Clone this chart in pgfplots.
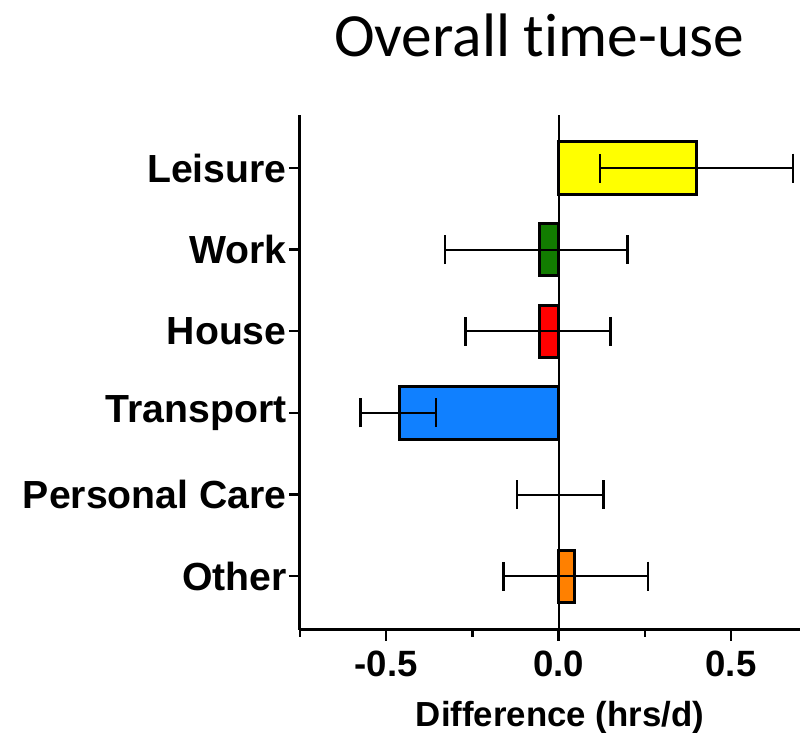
\documentclass[border=0pt]{standalone}
\usepackage{pgfplots}
\pgfplotsset{compat=1.18}
\usepackage{fontspec}
\setmainfont{Liberation Sans}
\newfontfamily\calibri[Ligatures={NoCommon,NoDiscretionary,NoContextual}]{Carlito}
\definecolor{cyel}{HTML}{FFFF00}
\definecolor{cgrn}{HTML}{127C00}
\definecolor{cred}{HTML}{FF0000}
\definecolor{cblu}{HTML}{1080FF}
\definecolor{corg}{HTML}{FF8000}
\pgfplotsset{
  barline/.style={line width=1.5pt, draw=black},
  myerr/.style={error bars/.cd, x dir=both, x explicit,
  error bar style={line width=1pt, black},
  error mark options={rotate=90, mark size=7.25pt, line width=1.2pt, black}}}
\begin{document}
\begin{tikzpicture}[x=0.5pt,y=0.5pt]
\begin{axis}[name=ax, at={(0,0)}, anchor=south west,
  scale only axis, width=250pt, height=257.5pt,
  xmin=-0.75, xmax=0.70, ymin=-0.66, ymax=5.65,
  axis lines*=left,
  axis line style={line width=1.5pt},
  xtick={-0.5,0,0.5}, xticklabels={-0.5,0.0,0.5},
  minor xtick={-0.75,-0.25,0.25},
  ytick={0,1,2,3,4,5},
  yticklabels={Other,Personal Care,Transport,House,Work,Leisure},
  tick align=outside,
  major tick length=5.5pt, minor tick length=3.5pt,
  every tick/.style={black, line width=1.2pt},
  xticklabel style={font=\fontsize{18.3}{21}\selectfont\bfseries, anchor=base, yshift=-18pt},
  yticklabel style={font=\fontsize{19.6}{22}\selectfont\bfseries, anchor=east, inner sep=1pt},
  xlabel={Difference (hrs/d)},
  xlabel style={font=\fontsize{17.4}{20}\selectfont\bfseries, at={(axis description cs:0.52,0)}, anchor=base, yshift=-48.5pt},
  xbar, bar width=0.64, bar shift=0pt,
  clip=false,
]
\addplot[line width=1pt, black, sharp plot, forget plot, no marks] coordinates {(0,-0.66) (0,5.65)};
\addplot[fill=cyel, barline, myerr] table[x=x, y=y, x error plus=ep, x error minus=em] {
y x ep em
5 0.40 0.28 0.28
};
\addplot[fill=cgrn, barline, myerr] table[x=x, y=y, x error plus=ep, x error minus=em] {
y x ep em
4 -0.055 0.255 0.275
};
\addplot[fill=cred, barline, myerr] table[x=x, y=y, x error plus=ep, x error minus=em] {
y x ep em
3 -0.055 0.205 0.215
};
\addplot[fill=cblu, barline, myerr] table[x=x, y=y, x error plus=ep, x error minus=em] {
y x ep em
2 -0.46 0.105 0.115
};
\addplot[draw=none, fill=none, myerr] table[x=x, y=y, x error plus=ep, x error minus=em] {
y x ep em
1 0.0 0.13 0.12
};
\addplot[fill=corg, barline, myerr] table[x=x, y=y, x error plus=ep, x error minus=em] {
y x ep em
0 0.045 0.215 0.205
};
\end{axis}
\node[font=\calibri\fontsize{30.7}{34}\selectfont, anchor=base] at (239,573) {Overall time-use};
\pgfresetboundingbox
\path (-300,-103) rectangle (500,630);
\end{tikzpicture}
\end{document}
